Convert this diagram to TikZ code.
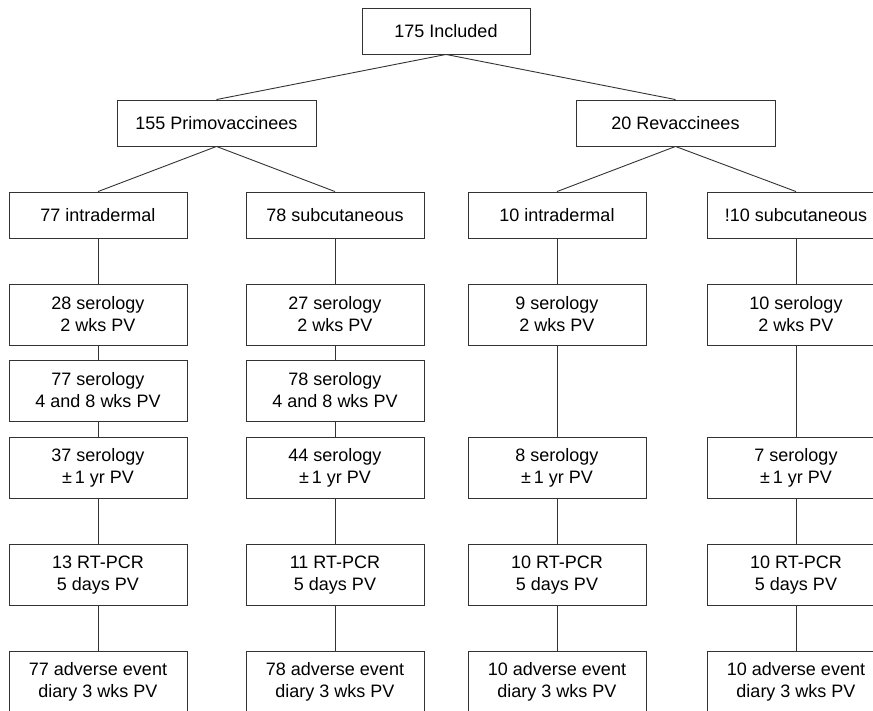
\documentclass[tikz,border=0pt]{standalone}
\usepackage{fontspec}
\setmainfont{Liberation Sans}
\usetikzlibrary{positioning}

\begin{document}
\begin{tikzpicture}[x=1pt,y=-1pt,
  box/.style={draw=black!80,line width=0.9pt,align=center,inner sep=0pt,
    minimum width=178pt,font=\fontsize{18}{22}\selectfont},
  one/.style={box,minimum height=46pt},
  two/.style={box,minimum height=61pt},
  link/.style={draw=black!80,line width=0.9pt}]
  \clip (0,0) rectangle (873,710);
  % top levels
  \node[one,minimum width=168pt] (incl) at (446,31) {175 Included};
  \node[one,minimum width=199pt] (primo) at (216.5,123) {155 Primovaccinees};
  \node[one,minimum width=199pt] (revac) at (675.5,123) {20 Revaccinees};
  % route groups
  \node[one] (a0) at (98,215) {77 intradermal};
  \node[one] (b0) at (335,215) {78 subcutaneous};
  \node[one] (c0) at (557,215) {10 intradermal};
  \node[one] (d0) at (796,215) {!10 subcutaneous};
  % primovaccinees, intradermal
  \node[two] (a1) at (98,314.5) {28 serology\\2 wks PV};
  \node[two] (a2) at (98,390.5) {77 serology\\4 and 8 wks PV};
  \node[two] (a3) at (98,467.5) {37 serology\\±\,1 yr PV};
  \node[two] (a4) at (98,575) {13 RT-PCR\\5 days PV};
  \node[two] (a5) at (98,681.5) {77 adverse event\\diary 3 wks PV};
  % primovaccinees, subcutaneous
  \node[two] (b1) at (335,314.5) {27 serology\\2 wks PV};
  \node[two] (b2) at (335,390.5) {78 serology\\4 and 8 wks PV};
  \node[two] (b3) at (335,467.5) {44 serology\\±\,1 yr PV};
  \node[two] (b4) at (335,575) {11 RT-PCR\\5 days PV};
  \node[two] (b5) at (335,681.5) {78 adverse event\\diary 3 wks PV};
  % revaccinees
  \node[two] (c1) at (557,314.5) {9 serology\\2 wks PV};
  \node[two] (c3) at (557,467.5) {8 serology\\±\,1 yr PV};
  \node[two] (c4) at (557,575) {10 RT-PCR\\5 days PV};
  \node[two] (c5) at (557,681.5) {10 adverse event\\diary 3 wks PV};
  \node[two] (d1) at (796,314.5) {10 serology\\2 wks PV};
  \node[two] (d3) at (796,467.5) {7 serology\\±\,1 yr PV};
  \node[two] (d4) at (796,575) {10 RT-PCR\\5 days PV};
  \node[two] (d5) at (796,681.5) {10 adverse event\\diary 3 wks PV};
  % connectors
  \draw[link] (incl.south) -- (primo.north);
  \draw[link] (incl.south) -- (revac.north);
  \draw[link] (primo.south) -- (a0.north);
  \draw[link] (primo.south) -- (b0.north);
  \draw[link] (revac.south) -- (c0.north);
  \draw[link] (revac.south) -- (d0.north);
  \foreach \c in {a,b}
    \foreach \i [count=\j from 0] in {1,...,5}
      \draw[link] (\c\j) -- (\c\i);
  \foreach \c in {c,d}
    \draw[link] (\c0) -- (\c1) -- (\c3) -- (\c4) -- (\c5);
\end{tikzpicture}
\end{document}
